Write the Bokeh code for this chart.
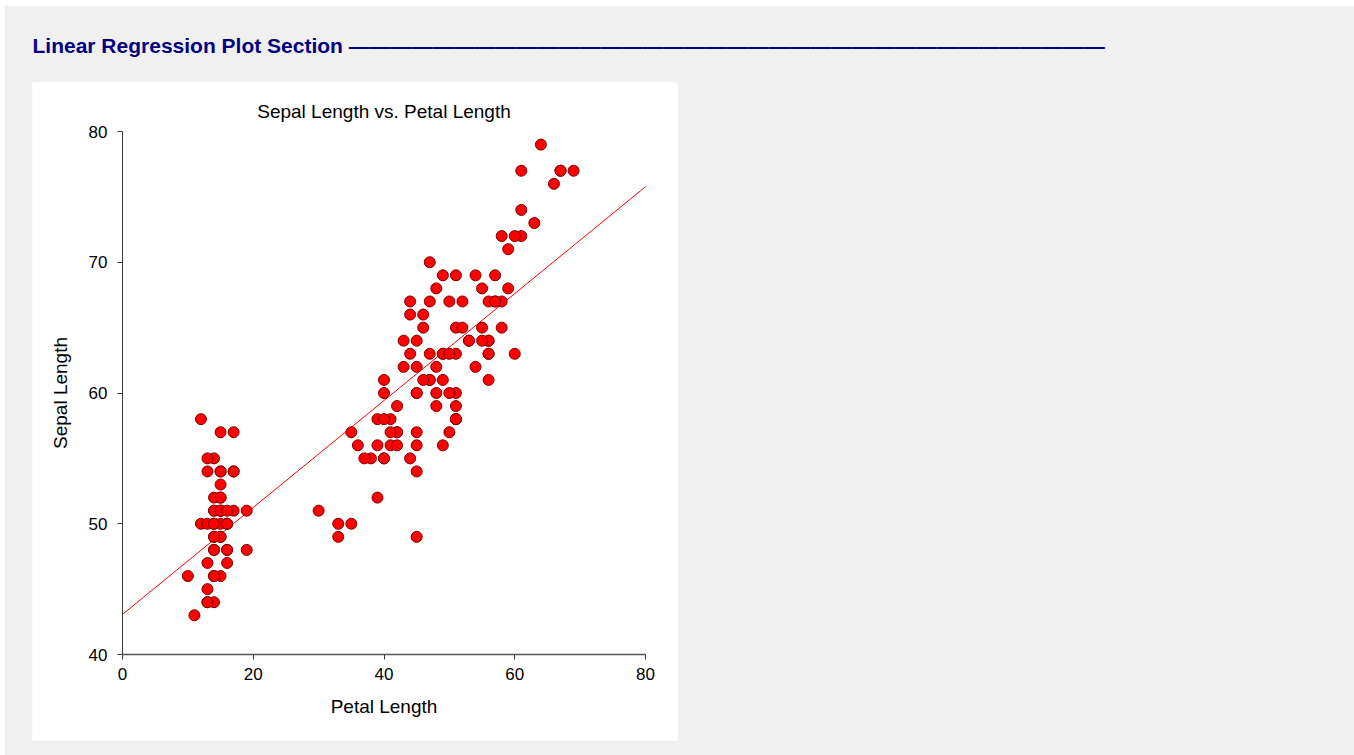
from bokeh.plotting import figure
from bokeh.models import Label, FixedTicker
from bokeh.embed import file_html
from bokeh.resources import INLINE
import numpy as np

# Iris measurements in millimetres: petal length (x) and sepal length (y)
setosa_petal = [14, 14, 13, 15, 14, 17, 14, 15, 14, 15, 15, 16, 14, 11, 12, 15, 13, 14, 17, 15,
                17, 15, 10, 17, 19, 16, 16, 15, 14, 16, 16, 15, 15, 14, 15, 12, 13, 14, 13, 15,
                13, 13, 13, 16, 19, 14, 16, 14, 15, 14]
setosa_sepal = [51, 49, 47, 46, 50, 54, 46, 50, 44, 49, 54, 48, 48, 43, 58, 57, 54, 51, 57, 51,
                54, 51, 46, 51, 48, 50, 50, 52, 52, 47, 48, 54, 52, 55, 49, 50, 55, 49, 44, 51,
                50, 45, 44, 50, 51, 48, 51, 46, 53, 50]
versicolor_petal = [47, 45, 49, 40, 46, 45, 47, 33, 46, 39, 35, 42, 40, 47, 36, 44, 45, 41, 45, 39,
                    48, 40, 49, 47, 43, 44, 48, 50, 45, 35, 38, 37, 39, 51, 45, 45, 47, 44, 41, 40,
                    44, 46, 40, 33, 42, 42, 42, 43, 30, 41]
versicolor_sepal = [70, 64, 69, 55, 65, 57, 63, 49, 66, 52, 50, 59, 60, 61, 56, 67, 56, 58, 62, 56,
                    59, 61, 63, 61, 64, 66, 68, 67, 60, 57, 55, 55, 58, 60, 54, 60, 67, 63, 56, 55,
                    55, 61, 58, 50, 56, 57, 57, 62, 51, 57]
virginica_petal = [60, 51, 59, 56, 58, 66, 45, 63, 58, 61, 51, 53, 55, 50, 51, 53, 55, 67, 69, 50,
                   57, 49, 67, 49, 57, 60, 48, 49, 56, 58, 61, 64, 56, 51, 56, 61, 56, 55, 48, 54,
                   56, 51, 51, 59, 57, 52, 50, 52, 54, 51]
virginica_sepal = [63, 58, 71, 63, 65, 76, 49, 73, 67, 72, 65, 64, 68, 57, 58, 64, 65, 77, 77, 60,
                   69, 56, 77, 63, 67, 72, 62, 61, 64, 72, 74, 79, 64, 63, 61, 77, 63, 64, 60, 69,
                   67, 69, 58, 68, 67, 67, 63, 65, 62, 59]

x_ticks = [0, 20, 40, 60, 80]
y_ticks = [40, 50, 60, 70, 80]

petal = np.array(setosa_petal + versicolor_petal + virginica_petal, dtype=float)
sepal = np.array(setosa_sepal + versicolor_sepal + virginica_sepal, dtype=float)

# least-squares fit of sepal length on petal length
slope, intercept = np.polyfit(petal, sepal, 1)
line_x = np.array([x_ticks[0], x_ticks[-1]], dtype=float)
line_y = intercept + slope * line_x

FONT = "Liberation Sans"

# The white panel is the plot frame; the axes sit inside it at fixed positions.
AXIS_PX = 523                      # length of each axis in pixels
PAD_L, PAD_R, PAD_T, PAD_B = 90, 32, 49, 86
xs = AXIS_PX / (x_ticks[-1] - x_ticks[0])
ys = AXIS_PX / (y_ticks[-1] - y_ticks[0])
x_range = (x_ticks[0] - PAD_L / xs, x_ticks[-1] + PAD_R / xs)
y_range = (y_ticks[0] - PAD_B / ys, y_ticks[-1] + PAD_T / ys)

FRAME_W = AXIS_PX + PAD_L + PAD_R
FRAME_H = AXIS_PX + PAD_T + PAD_B
W, H = 1350, 750
BORDER_L, BORDER_T = 28, 77

p = figure(
    width=W, height=H,
    frame_width=FRAME_W, frame_height=FRAME_H,
    min_border_left=BORDER_L, min_border_top=BORDER_T,
    min_border_right=W - BORDER_L - FRAME_W, min_border_bottom=H - BORDER_T - FRAME_H,
    x_range=x_range, y_range=y_range,
    output_backend="svg", toolbar_location=None,
    title="Linear Regression Plot Section " + "\u2014" * 36,
    margin=(5, 0, 0, 4),
)

p.border_fill_color = "#f0f0f0"
p.background_fill_color = "white"
p.outline_line_color = None
p.grid.visible = False

# section heading
p.title.text_font = FONT
p.title.text_font_size = "21px"
p.title.text_font_style = "bold"
p.title.text_color = "#000080"
p.title.align = "left"
p.title.standoff = 52

# chart title inside the white panel
p.add_layout(Label(x=(x_ticks[0] + x_ticks[-1]) / 2, y=y_ticks[-1] + 20 / ys,
                   text="Sepal Length vs. Petal Length",
                   text_font=FONT, text_font_size="19px", text_color="black",
                   text_align="center", text_baseline="middle"))

for ax in (p.xaxis, p.yaxis):
    ax.axis_label_text_font = FONT
    ax.axis_label_text_font_size = "19px"
    ax.axis_label_text_font_style = "normal"
    ax.axis_label_text_color = "black"
    ax.major_label_text_font = FONT
    ax.major_label_text_font_size = "17px"
    ax.major_label_text_color = "black"
    ax.major_tick_in = 0
    ax.major_tick_out = 5
    ax.minor_tick_line_color = None
    ax.major_tick_line_color = "#3a3a3a"
    ax.axis_line_color = "#3a3a3a"

p.xaxis.fixed_location = y_ticks[0]
p.yaxis.fixed_location = x_ticks[0]
p.xaxis.bounds = (x_ticks[0], x_ticks[-1])
p.yaxis.bounds = (y_ticks[0], y_ticks[-1])
p.xaxis.axis_label = "Petal Length"
p.yaxis.axis_label = "Sepal Length"
p.xaxis.ticker = FixedTicker(ticks=x_ticks)
p.yaxis.ticker = FixedTicker(ticks=y_ticks)
p.xaxis.axis_line_width = 1.5
p.xaxis.axis_line_color = "#555555"
p.xaxis.major_label_standoff = 8
p.yaxis.major_label_standoff = 10
p.xaxis.axis_label_standoff = 13
p.yaxis.axis_label_standoff = 15

p.line(line_x, line_y, line_color="red", line_width=1)
p.scatter(petal, sepal, size=11, fill_color="red", line_color="#7a0000", line_width=1)

open("out.html", "w").write(file_html(p, INLINE))
